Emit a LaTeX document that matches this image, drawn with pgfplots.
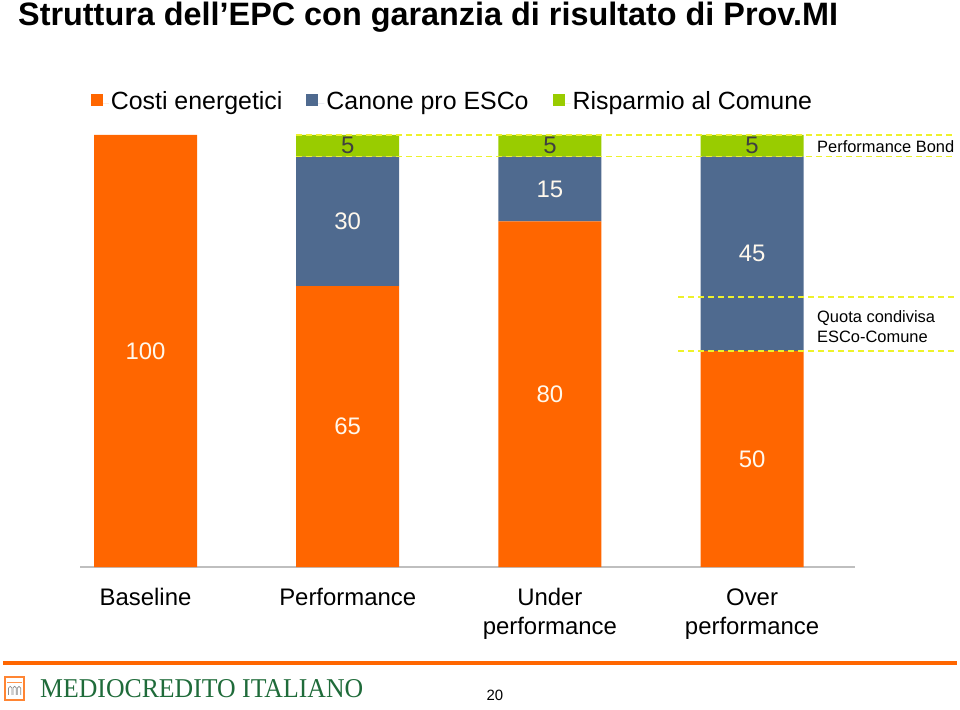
\documentclass[border=0pt]{standalone}
\usepackage{fontspec}
\setmainfont{Liberation Sans}
\newfontfamily\logofont{Liberation Serif}
\usepackage{pgfplots}
\pgfplotsset{compat=1.18}
\definecolor{orC}{HTML}{FF6600}
\definecolor{blC}{HTML}{4F6A8F}
\definecolor{grC}{HTML}{99CC00}
\definecolor{yeC}{HTML}{EEF22A}
\definecolor{logoG}{HTML}{1F6B3A}
\definecolor{labW}{HTML}{FFF8EC}
\begin{document}
\begin{tikzpicture}
\path[use as bounding box] (0bp,0bp) rectangle (960bp,710bp);

\begin{axis}[
 at={(80bp,143bp)}, anchor=south west, scale only axis, width=775bp, height=432bp,
 xmin=-0.324, xmax=3.509, ymin=0, ymax=100,
 ybar stacked, bar width=103bp,
 axis x line*=bottom, axis y line=none,
 x axis line style={draw=black!25, line width=1.5bp},
 xtick={0,1,2,3},
 xticklabels={Baseline,Performance,{Under\\performance},{Over\\performance}},
 major tick length=0,
 xticklabel style={align=center, font=\fontsize{24}{29}\selectfont, yshift=-18bp},
 clip=false,
 legend style={at={(0.4806,1.074)}, anchor=center, draw=none, fill=none,
   legend columns=3, font=\fontsize{25}{30}\selectfont,
   nodes={text height=18bp, text depth=5bp},
   /tikz/every even column/.append style={column sep=22bp}},
 legend image code/.code={\path[#1, draw=none] (0bp,-3bp) rectangle (12bp,9bp);
   \path (0bp,0bp) -- (18bp,0bp);},
]
\addplot[fill=orC, draw=none] coordinates {(0,100) (1,65) (2,80) (3,50)};
\addplot[fill=blC, draw=none] coordinates {(0,0) (1,30) (2,15) (3,45)};
\addplot[fill=grC, draw=none] coordinates {(0,0) (1,5) (2,5) (3,5)};
\legend{Costi energetici, Canone pro ESCo, Risparmio al Comune}
\end{axis}

\begin{axis}[
 at={(80bp,143bp)}, anchor=south west, scale only axis, width=775bp, height=432bp,
 xmin=-0.324, xmax=3.509, ymin=0, ymax=100, hide axis, clip=false,
 every node near coord/.style={anchor=center, font=\fontsize{24}{29}\selectfont}]
\addplot[yeC, line width=1.5bp, dash pattern=on 6bp off 4bp] coordinates {(0.744,100) (4.003,100)};
\addplot[yeC, line width=1.5bp, dash pattern=on 6bp off 4bp] coordinates {(0.744,95) (4.003,95)};
\addplot[yeC, line width=1.5bp, dash pattern=on 6bp off 4bp] coordinates {(2.634,62.5) (4.003,62.5)};
\addplot[yeC, line width=1.5bp, dash pattern=on 6bp off 4bp] coordinates {(2.634,50) (4.003,50)};
\addplot[draw=none, mark=none, nodes near coords, point meta=explicit symbolic,
  every node near coord/.append style={text=labW}]
  coordinates {(0,50)[100] (1,32.5)[65] (1,80)[30] (2,40)[80] (2,87.5)[15] (3,25)[50] (3,72.5)[45]};
\addplot[draw=none, mark=none, nodes near coords, point meta=explicit symbolic,
  every node near coord/.append style={text=black!75}]
  coordinates {(1,97.5)[5] (2,97.5)[5] (3,97.5)[5]};
\end{axis}

\begin{scope}[x=1bp,y=1bp]
\node[anchor=base west, inner sep=0, font=\bfseries\fontsize{32.5}{36}\selectfont] at (18,684.5) {Struttura dell’EPC con garanzia di risultato di Prov.MI};
\node[anchor=west, inner sep=0, font=\fontsize{16.5}{20}\selectfont] at (817,563) {Performance Bond};
\node[anchor=west, inner sep=0, align=left, font=\fontsize{16.5}{20}\selectfont] at (817,383) {Quota condivisa\\ESCo-Comune};

\fill[orC] (3,45) rectangle (957,49);
\draw[orC!80, line width=1.3bp] (5,10) rectangle (24,33);
\foreach \i in {0,1,2} {\draw[black!45, line width=0.7bp] (8.5+\i*4.4,15) -- (8.5+\i*4.4,22) arc (180:0:1.7) -- (11.9+\i*4.4,15);}
\draw[orC!70, line width=0.8bp] (7,28) -- (22,28);
\node[anchor=base west, inner sep=0, text=logoG] at (40,12) {\resizebox{323bp}{18bp}{\logofont MEDIOCREDITO ITALIANO}};
\node[anchor=base, inner sep=0, font=\fontsize{15}{18}\selectfont] at (495,10) {20};
\end{scope}
\end{tikzpicture}
\end{document}
